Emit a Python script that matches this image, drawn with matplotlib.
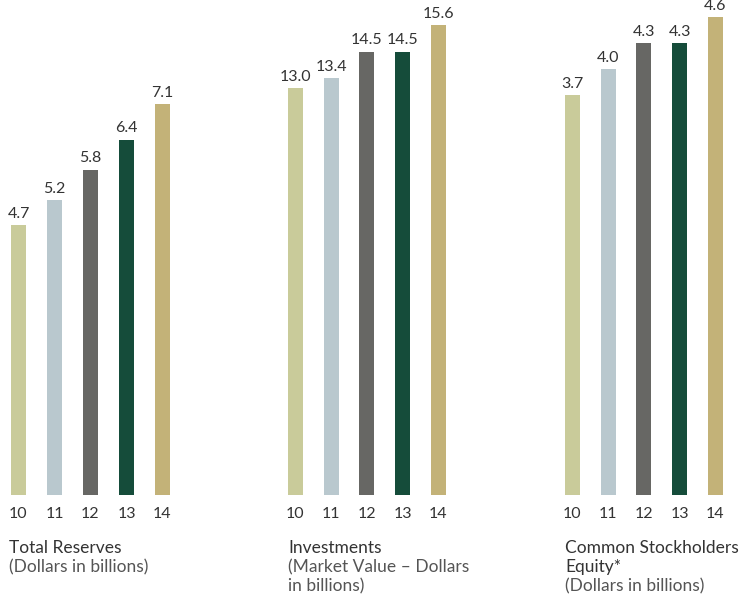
import matplotlib.pyplot as plt

plt.rcParams['font.family'] = ['Lato', 'DejaVu Sans']

years = ['10', '11', '12', '13', '14']
reserves = [4.7, 5.2, 5.8, 6.4, 7.1]
investments = [13.0, 13.4, 14.5, 14.5, 15.6]
equity = [3.7, 4.0, 4.3, 4.3, 4.6]

colors = ['#c9cb9a', '#b9c8ce', '#676764', '#154c3a', '#c3b278']

titles = [['Total Reserves'], ['Investments'], ['Common Stockholders', 'Equity*']]
subtitles = [['(Dollars in billions)'], ['(Market Value \u2013 Dollars', 'in billions)'],
             ['(Dollars in billions)']]

W, H = 744, 595
fig = plt.figure(figsize=(W / 100, H / 100), dpi=100)

# panel layout in pixels: axes left, px per bar step, ylim, text x
panels = [
    (reserves, 0.5, 36.0, (-0.683, 9.18), 9),
    (investments, 277.6, 35.75, (-3.9, 16.64), 288),
    (equity, 554.6, 35.75, (-0.903, 4.80), 565),
]
base = 495

for i, (vals, left, step, ylim, tx) in enumerate(panels):
    ax = fig.add_axes([left / W, (H - base) / H, step * 5 / W, base / H])
    x = list(range(len(vals)))
    ax.bar(x, [v - ylim[0] for v in vals], width=15 / step, color=colors,
           bottom=ylim[0], zorder=2)
    ax.set_xlim(-0.5, 4.5)
    ax.set_ylim(*ylim)
    for xi, v in zip(x, vals):
        ax.annotate(f'{v:.1f}', (xi, v), xytext=(0, 3), textcoords='offset points',
                    ha='center', va='bottom', fontsize=11.5, color='#333333')
    ax.set_xticks(x)
    ax.set_xticklabels(years, fontsize=11.5, color='#333333')
    ax.tick_params(axis='x', length=0, pad=9)
    ax.set_yticks([])
    for s in ax.spines.values():
        s.set_visible(False)
    ax.patch.set_alpha(0)

    lines = [(t, '#333333') for t in titles[i]] + [(t, '#555555') for t in subtitles[i]]
    for k, (t, c) in enumerate(lines):
        fig.text(tx / W, 1 - (548 + 19 * k) / H, t, fontsize=12.5, color=c,
                 va='center', ha='left')

fig.savefig('out.png', dpi=100)
